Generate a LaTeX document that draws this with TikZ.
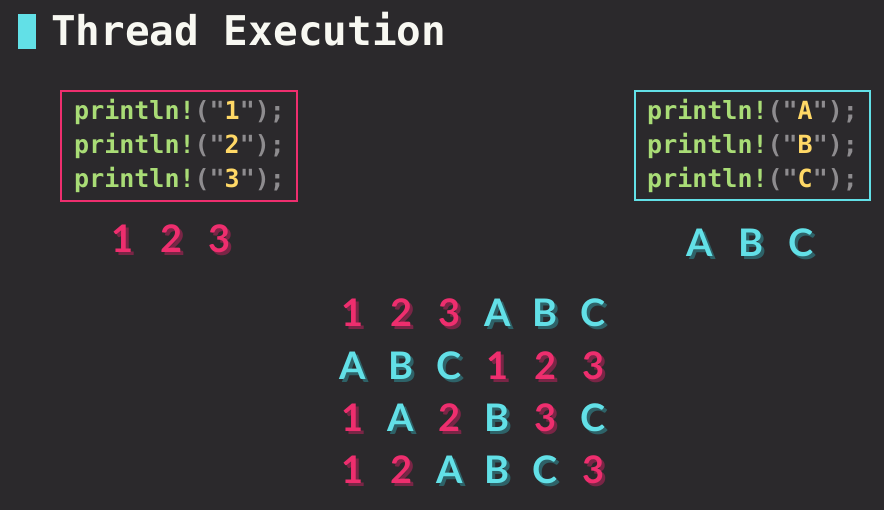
\documentclass[tikz,border=0pt]{standalone}
\usepackage{fontspec}
\setmonofont{DejaVu Sans Mono}
\newfontfamily\bigfont{Lato}
\definecolor{bg}{HTML}{2B292C}
\definecolor{pinkc}{HTML}{EE2E6E}
\definecolor{pinksh}{HTML}{7A2546}
\definecolor{cyanc}{HTML}{62E0E7}
\definecolor{cyansh}{HTML}{2E6268}
\definecolor{codegreen}{HTML}{A9DC76}
\definecolor{codeyellow}{HTML}{FFD866}
\definecolor{codegray}{HTML}{8E8C8F}
\definecolor{titlec}{HTML}{F8F8F2}
\tikzset{
  title/.style={anchor=base west, inner sep=0pt, text=titlec, font=\ttfamily\bfseries\fontsize{41}{41}\selectfont},
  codeline/.style={anchor=base west, inner sep=0pt, font=\ttfamily\bfseries\fontsize{25}{25}\selectfont},
  codebox/.style={draw=#1, line width=2pt, anchor=north west, inner sep=0pt},
  glyph/.style={anchor=base, inner sep=0pt, text=#1, font=\bigfont\bfseries\fontsize{38}{38}\selectfont},
}
\newcommand\codeln[1]{\textcolor{codegreen}{println!}\textcolor{codegray}{("}\textcolor{codeyellow}{#1}\textcolor{codegray}{");}}
\newcommand\bigch[4]{% name, x, y, char
  \edef\thech{#4}%
  \expandafter\ifnum\expandafter`\thech<65 \def\mc{pinkc}\def\sc{pinksh}\else\def\mc{cyanc}\def\sc{cyansh}\fi
  \node[glyph=\sc] (#1s) at ({#2+3},{#3+3}) {\thech};
  \node[glyph=\mc] (#1) at ({#2},{#3}) {\thech};
}
\begin{document}
\begin{tikzpicture}[x=1pt,y=-1pt]
\fill[bg] (0,0) rectangle (884,510);
\useasboundingbox (0,0) rectangle (884,510);
% title
\fill[cyanc] (18,14) rectangle (36,49);
\node[title] (ttl) at (51,46) {Thread Execution};
% boxes
\node[codebox=pinkc, minimum width=236pt, minimum height=110pt] (lbox) at (60,90) {};
\node[codebox=cyanc, minimum width=235pt, minimum height=109pt] (rbox) at (634,90) {};
\node[codeline] (l1) at (74,120) {\codeln{1}};
\node[codeline] (l2) at (74,154) {\codeln{2}};
\node[codeline] (l3) at (74,188) {\codeln{3}};
\node[codeline] (r1) at (647,120) {\codeln{A}};
\node[codeline] (r2) at (647,154) {\codeln{B}};
\node[codeline] (r3) at (647,188) {\codeln{C}};
% outputs
\bigch{o1}{123}{253}{1}
\bigch{o2}{172}{253}{2}
\bigch{o3}{220}{253}{3}
\bigch{oa}{700}{257}{A}
\bigch{ob}{751}{257}{B}
\bigch{oc}{801}{257}{C}
% grid
\foreach \row [count=\r] in {{1,2,3,A,B,C},{A,B,C,1,2,3},{1,A,2,B,3,C},{1,2,A,B,C,3}}{
  \foreach \ch [count=\c] in \row {
    \bigch{g\r\c}{353+48.1*(\c-1)}{327+52.3*(\r-1)}{\ch}
  }
}
\end{tikzpicture}
\end{document}
